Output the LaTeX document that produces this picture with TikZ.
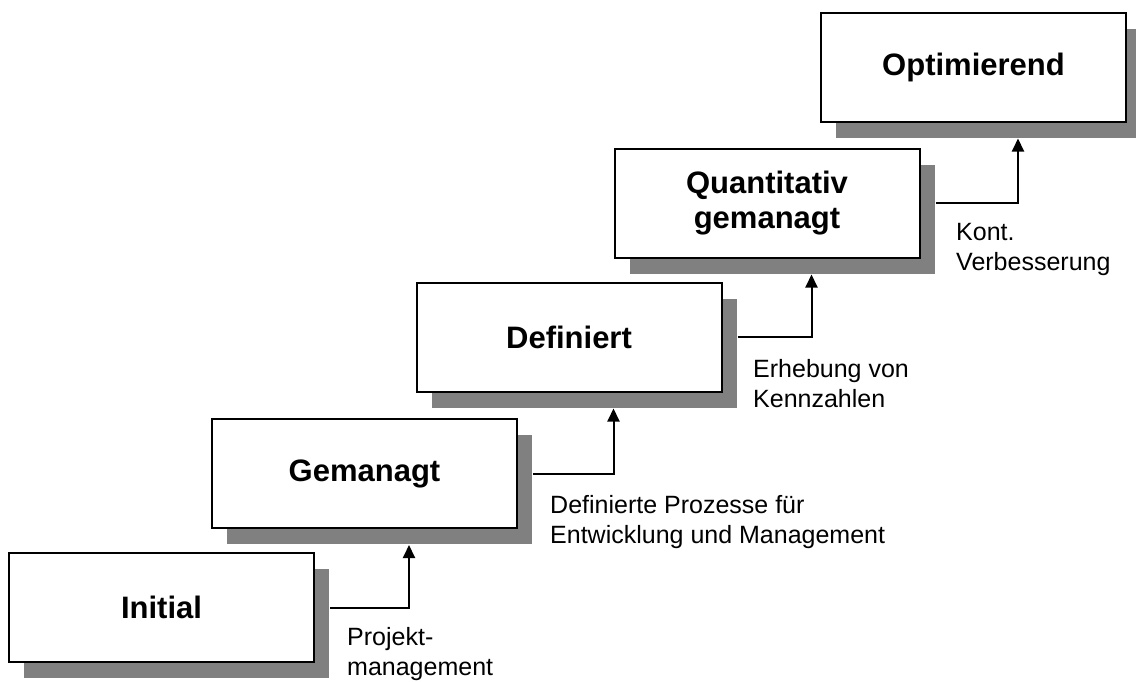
\documentclass[tikz,border=0pt]{standalone}
\usepackage{fontspec}
\setmainfont{Liberation Sans}
\usetikzlibrary{arrows.meta,shadows}
\definecolor{shadowgray}{HTML}{808080}
\begin{document}
\begin{tikzpicture}[x=1pt,y=-1pt,
  level/.style={draw=black, line width=2pt, fill=white, inner sep=0pt,
    minimum width=305pt, minimum height=109pt, align=center,
    font=\bfseries\fontsize{31}{35}\selectfont,
    drop shadow={shadow xshift=15pt, shadow yshift=-16pt, fill=shadowgray, opacity=1}},
  conn/.style={line width=2pt, -{Triangle[width=12pt,length=13pt]}},
  note/.style={anchor=base west, inner sep=0pt, align=left,
    font=\fontsize{25}{30}\selectfont}]
  \useasboundingbox (0,0) rectangle (1136,681);

  % the five maturity levels, rising from left to right
  \node[level] (init) at (161.5,607.5) {Initial};
  \node[level] (gem)  at (364.5,473.5) {Gemanagt};
  \node[level] (def)  at (569,337)     {Definiert};
  \node[level] (quan) at (767,203)     {Quantitativ\\gemanagt};
  \node[level] (opt)  at (973.5,67)    {Optimierend};

  % transitions: out of the shadow edge, up to the next shadow
  \draw[conn] ([xshift=15pt]init.east) -| ([shift={(198,16)}]gem.south west);
  \draw[conn] ([xshift=15pt]gem.east)  -| ([shift={(198,16)}]def.south west);
  \draw[conn] ([xshift=15pt]def.east)  -| ([shift={(198,16)}]quan.south west);
  \draw[conn] ([xshift=15pt]quan.east) -| ([shift={(198,16)}]opt.south west);

  % what each step requires (anchored at the baseline of the last line)
  \node[note] (n1) at (347,675) {Projekt-\\management};
  \node[note] (n2) at (550,543) {Definierte Prozesse für\\Entwicklung und Management};
  \node[note] (n3) at (753,407) {Erhebung von\\Kennzahlen};
  \node[note] (n4) at (956,270) {Kont.\\Verbesserung};
\end{tikzpicture}
\end{document}
